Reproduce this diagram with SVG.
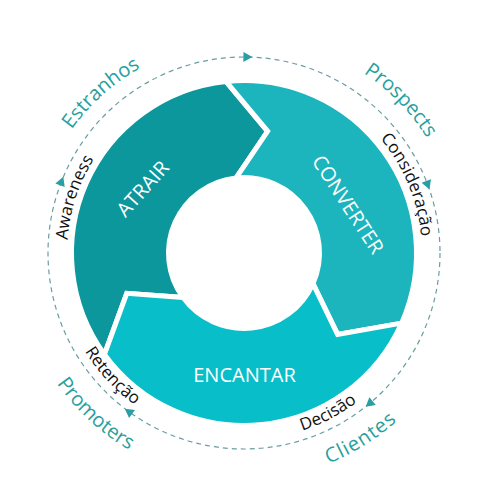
<svg xmlns="http://www.w3.org/2000/svg" width="500" height="500" viewBox="0 0 500 500">
<style>
.seg{stroke:#ffffff;stroke-width:5;stroke-linejoin:miter}
.lbl{font-family:"Open Sans","Liberation Sans",sans-serif;font-size:20px;fill:#ffffff;text-anchor:middle}
.outer{font-family:"Open Sans","Liberation Sans",sans-serif;font-size:20px;fill:#27a09d;text-anchor:middle}
.inner{font-family:"Open Sans","Liberation Sans",sans-serif;font-size:17px;fill:#111111;text-anchor:middle}
.dash{fill:none;stroke:#6a9da2;stroke-width:1.2;stroke-dasharray:5 4}
.arr{fill:#279fa4}
</style>
<defs>
<path id="seg" d="M172.5,0 A172.5,172.5 0 0 1 -86.25,149.39 L-90.69,84.57 L-37.75,65.39 A75.5,75.5 0 0 0 75.5,0 L118.58,36.25 Z"/>
<path id="tri" d="M5,0 L-4,-5 L-4,5 Z"/>
<path id="cw212" d="M106,-183.6 A212,212 0 0 1 106,183.6"/>
<path id="cw216" d="M108,-187.06 A216,216 0 0 1 108,187.06"/>
<path id="cw177" d="M88.5,-153.29 A177,177 0 0 1 88.5,153.29"/>
<path id="cw178" d="M89,-154.15 A178,178 0 0 1 89,154.15"/>
<path id="ccw227" d="M113.5,196.59 A227,227 0 0 0 113.5,-196.59"/>
<path id="ccw228" d="M114,197.45 A228,228 0 0 0 114,-197.45"/>
<path id="ccw187" d="M93.5,161.95 A187,187 0 0 0 93.5,-161.95"/>
</defs>

<g id="connectors">
<circle class="dash" cx="244" cy="253" r="196"/>
<use href="#tri" class="arr" transform="translate(247.4,57) rotate(1)"/>
<use href="#tri" class="arr" transform="translate(427.7,184.7) rotate(69.6)"/>
<use href="#tri" class="arr" transform="translate(369.5,403.6) rotate(140.2)"/>
<use href="#tri" class="arr" transform="translate(128.8,411.6) rotate(216)"/>
<use href="#tri" class="arr" transform="translate(61.5,181.5) rotate(291.4)"/>
<g transform="translate(244,253) rotate(198.1)"><text class="inner"><textPath href="#cw177" startOffset="50%">Awareness</textPath></text></g>
<g transform="translate(244,253) rotate(-22.7)"><text class="inner"><textPath href="#cw178" startOffset="50%">Consideração</textPath></text></g>
<g transform="translate(244,253) rotate(137)"><text class="inner"><textPath href="#ccw187" startOffset="50%">Retenção</textPath></text></g>
<g transform="translate(244,253) rotate(62.3)"><text class="inner"><textPath href="#ccw187" startOffset="50%">Decisão</textPath></text></g>
</g>

<g id="atrair">
<use href="#seg" class="seg" fill="#0b979c" transform="translate(244,253) rotate(144)"/>
<text class="lbl" transform="translate(142.7,188.7) rotate(-48)" y="7">ATRAIR</text>
</g>
<g id="converter">
<use href="#seg" class="seg" fill="#1cb5bd" transform="translate(244,253) rotate(-96)"/>
<text class="lbl" transform="translate(348,204.5) rotate(57)" y="7">CONVERTER</text>
</g>
<g id="encantar">
<use href="#seg" class="seg" fill="#08bec8" transform="translate(244,253) rotate(24)"/>
<text class="lbl" x="244.5" y="382">ENCANTAR</text>
</g>

<g id="estranhos" transform="translate(244,253) rotate(228.2)"><text class="outer"><textPath href="#cw212" startOffset="50%">Estranhos</textPath></text></g>
<g id="prospects" transform="translate(244,253) rotate(-44.25)"><text class="outer"><textPath href="#cw216" startOffset="50%">Prospects</textPath></text></g>
<g id="clientes" transform="translate(244,253) rotate(57.8)"><text class="outer" letter-spacing="1"><textPath href="#ccw227" startOffset="50%">Clientes</textPath></text></g>
<g id="promoters" transform="translate(244,253) rotate(132.7)"><text class="outer"><textPath href="#ccw228" startOffset="50%">Promoters</textPath></text></g>
</svg>
